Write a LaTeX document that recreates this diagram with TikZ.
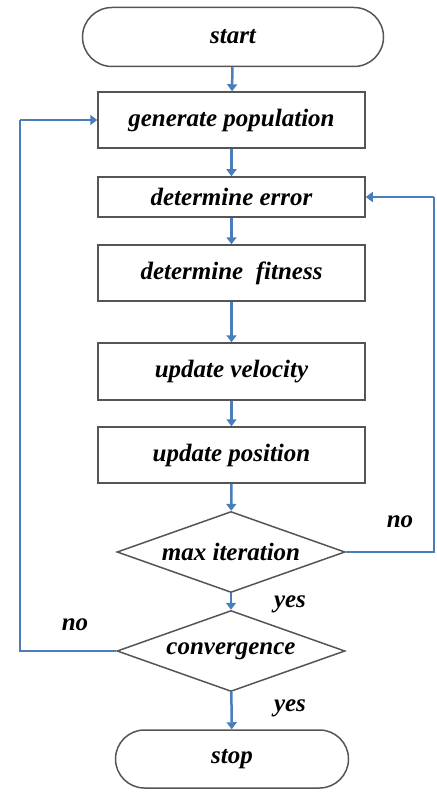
\documentclass[tikz,border=0pt]{standalone}
\usepackage{fontspec}
\setmainfont{Liberation Serif}
\usetikzlibrary{shapes.geometric,shapes.misc,arrows.meta}
\definecolor{arrowblue}{HTML}{4A7EBB}
\definecolor{boxgray}{HTML}{555555}
\tikzset{
  txt/.style={font=\fontsize{25}{28}\selectfont\bfseries\itshape},
  procbox/.style={draw=boxgray, line width=1.5pt, rectangle, minimum width=267pt, minimum height=56pt, inner sep=0pt, txt},
  termbox/.style={draw=boxgray, line width=1.5pt, rounded rectangle, inner sep=0pt, txt},
  decbox/.style={draw=boxgray, line width=1.5pt, diamond, aspect=2.8, minimum width=228pt, minimum height=81pt, inner sep=0pt, txt},
  flow/.style={draw=arrowblue, line width=2.5pt, -{Triangle[width=10pt,length=7pt]}},
  flowline/.style={draw=arrowblue, line width=2.5pt},
  lbl/.style={txt, inner sep=0pt}
}
\begin{document}
\begin{tikzpicture}[x=1pt,y=-1pt]
\useasboundingbox (0,0) rectangle (436,794);
\node[termbox, minimum width=301pt, minimum height=59pt] (start) at (233,37) {start};
\node[procbox] (gen) at (231.5,120) {generate population};
\node[procbox, minimum height=40pt] (err) at (231.5,197) {determine error};
\node[procbox] (fit) at (231.5,273) {determine\ \ fitness};
\node[procbox, minimum height=57pt] (vel) at (231.5,371.5) {update velocity};
\node[procbox] (pos) at (231.5,455) {update position};
\node[decbox] (maxit) at (231,552) {max iteration};
\node[decbox] (conv) at (231,651) {convergence};
\node[termbox, minimum width=233pt, minimum height=58pt] (stop) at (232,759) {stop};
\coordinate (rb) at (434,552);
\coordinate (rt) at (434,197);
\coordinate (lb) at (20,651);
\coordinate (lt) at (20,120);
\draw[flow] (start) -- (gen);
\draw[flow] (gen) -- (err);
\draw[flow] (err) -- (fit);
\draw[flow] (fit) -- (vel);
\draw[flow] (vel) -- (pos);
\draw[flow] (pos) -- (maxit);
\draw[flow] (maxit) -- (conv);
\draw[flow] (conv) -- (stop);
\draw[flowline] (maxit.east) -- (rb) -- (rt);
\draw[flow] (rt) -- (err.east);
\draw[flowline] (conv.west) -- (lb) -- (lt);
\draw[flow] (lt) -- (gen.west);
\node[lbl] (no1) at (400,522) {no};
\node[lbl] (yes1) at (290,604) {yes};
\node[lbl] (no2) at (75,625) {no};
\node[lbl] (yes2) at (290,708) {yes};
\end{tikzpicture}
\end{document}
